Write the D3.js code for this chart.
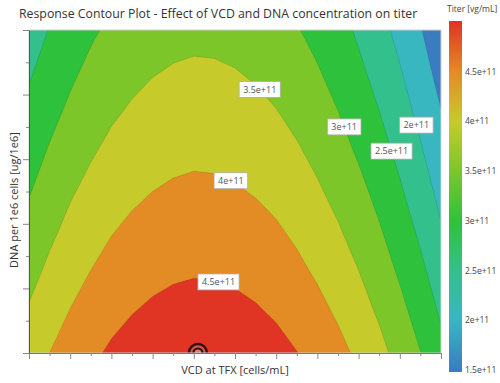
<!DOCTYPE html>
<html>
<head>
<meta charset="utf-8">
<script src="https://cdn.jsdelivr.net/npm/d3@7"></script>
<style>
body { margin: 0; background: #fff; }
svg { font-family: "Open Sans", "Noto Sans", sans-serif; }
</style>
</head>
<body>
<svg width="500" height="383"></svg>
<script>
// grid of the response model, titer in units of 1e11 vg/mL
var vcd = [0, 0.5, 1, 1.5, 2, 2.5, 3, 3.5, 4, 4.5, 5, 5.5, 6, 6.5, 7, 7.5, 8, 8.5, 9, 9.5, 10];
var dna = [0, 1.25, 2.5, 3.75, 5, 6.25, 7.5, 8.75, 10];
// one row per dna value, bottom row first
var titer = [
    [3.75, 4.00, 4.22, 4.41, 4.57, 4.69, 4.78, 4.84, 4.87, 4.86, 4.82, 4.75, 4.65, 4.51, 4.34, 4.14, 3.91, 3.64, 3.34, 3.01, 2.65],
    [3.55, 3.80, 4.02, 4.21, 4.37, 4.49, 4.58, 4.64, 4.67, 4.66, 4.62, 4.55, 4.45, 4.31, 4.14, 3.94, 3.70, 3.44, 3.14, 2.81, 2.44],
    [3.35, 3.60, 3.83, 4.01, 4.17, 4.29, 4.38, 4.44, 4.47, 4.46, 4.42, 4.35, 4.25, 4.11, 3.94, 3.74, 3.51, 3.24, 2.94, 2.61, 2.25],
    [3.16, 3.41, 3.63, 3.82, 3.98, 4.10, 4.19, 4.25, 4.28, 4.27, 4.23, 4.16, 4.06, 3.92, 3.75, 3.55, 3.31, 3.05, 2.75, 2.42, 2.05],
    [2.97, 3.22, 3.45, 3.63, 3.79, 3.91, 4.00, 4.06, 4.09, 4.08, 4.04, 3.97, 3.87, 3.73, 3.56, 3.36, 3.13, 2.86, 2.56, 2.23, 1.87],
    [2.79, 3.04, 3.26, 3.45, 3.61, 3.73, 3.82, 3.88, 3.91, 3.90, 3.86, 3.79, 3.69, 3.55, 3.38, 3.18, 2.94, 2.68, 2.38, 2.05, 1.68],
    [2.61, 2.86, 3.08, 3.27, 3.43, 3.55, 3.64, 3.70, 3.73, 3.72, 3.68, 3.61, 3.51, 3.37, 3.20, 3.00, 2.77, 2.50, 2.20, 1.87, 1.51],
    [2.44, 2.69, 2.91, 3.10, 3.26, 3.38, 3.47, 3.53, 3.56, 3.55, 3.51, 3.44, 3.34, 3.20, 3.03, 2.83, 2.59, 2.33, 2.03, 1.70, 1.33],
    [2.27, 2.52, 2.74, 2.93, 3.09, 3.21, 3.30, 3.36, 3.39, 3.38, 3.34, 3.27, 3.17, 3.03, 2.86, 2.66, 2.43, 2.16, 1.86, 1.53, 1.17]
];
var levels = [1.5, 2, 2.5, 3, 3.5, 4, 4.5];
var colorStops = [1.5, 2, 2.5, 3, 3.5, 4, 4.5, 5];
var colorValues = ["#3a7cc0", "#38b7c0", "#33c08c", "#2ec23c", "#7cc62a", "#c6cb2b", "#e38b24", "#e03424"];
var barTicks = [1.5, 2, 2.5, 3, 3.5, 4, 4.5];
var barTickLabels = ["1.5e+11", "2e+11", "2.5e+11", "3e+11", "3.5e+11", "4e+11", "4.5e+11"];
var labelLevels = [4.5, 4, 3.5, 3, 2.5, 2];
var labelTexts = ["4.5e+11", "4e+11", "3.5e+11", "3e+11", "2.5e+11", "2e+11"];
var labelVcd = [4.6, 4.9, 5.6, 7.65, 8.8, 9.4];
var optimum = [4.1, 0];
var xTicks = vcd;
var yTicks = [0, 1, 2, 3, 4, 5, 6, 7, 8, 9, 10];

var svg = d3.select("svg");
var margin = {left: 29, top: 30, right: 441, bottom: 353};

var x = d3.scaleLinear().domain([0, 10]).range([margin.left, margin.right]);
var y = d3.scaleLinear().domain([0, 10]).range([margin.bottom, margin.top]);
var color = d3.scaleLinear().domain(colorStops).range(colorValues);

// band above a threshold gets the colour of the next level
function bandColor(t) { return color(t + 0.5); }

var defs = svg.append("defs");
defs.append("clipPath").attr("id", "plotclip")
    .append("rect")
    .attr("x", margin.left).attr("y", margin.top)
    .attr("width", margin.right - margin.left)
    .attr("height", margin.bottom - margin.top);

svg.append("text")
    .attr("x", 19).attr("y", 18)
    .attr("font-size", 12.3)
    .attr("fill", "#333")
    .text("Response Contour Plot - Effect of VCD and DNA concentration on titer");

var n = vcd.length, m = dna.length;
var values = [];
titer.forEach(function(row) { row.forEach(function(v) { values.push(v); }); });

var gx = d3.scaleLinear().domain([0.5, n - 0.5]).range([x(vcd[0]), x(vcd[n - 1])]);
var gy = d3.scaleLinear().domain([0.5, m - 0.5]).range([y(dna[0]), y(dna[m - 1])]);
var proj = d3.geoTransform({
    point: function(px, py) { this.stream.point(gx(px), gy(py)); }
});
var path = d3.geoPath(proj);

var contours = d3.contours().size([n, m]).thresholds(levels)(values);

var plot = svg.append("g").attr("clip-path", "url(#plotclip)");
plot.append("rect")
    .attr("x", margin.left).attr("y", margin.top)
    .attr("width", margin.right - margin.left)
    .attr("height", margin.bottom - margin.top)
    .attr("fill", color(1.5));

plot.selectAll("path.band")
    .data(contours)
    .enter().append("path")
    .attr("class", "band")
    .attr("d", path)
    .attr("fill", d => bandColor(d.value))
    .attr("stroke", "rgba(0,0,0,0.18)")
    .attr("stroke-width", 0.6);

// optimum marker
var ox = x(optimum[0]), oy = y(optimum[1]);
plot.append("circle").attr("cx", ox).attr("cy", oy).attr("r", 9)
    .attr("fill", "#c85a50").attr("stroke", "#3a0c0a").attr("stroke-width", 2.5);
plot.append("circle").attr("cx", ox).attr("cy", oy).attr("r", 4.5)
    .attr("fill", "#d88070").attr("stroke", "#3a0c0a").attr("stroke-width", 2.2);

// frame
svg.append("rect")
    .attr("x", margin.left).attr("y", margin.top)
    .attr("width", margin.right - margin.left)
    .attr("height", margin.bottom - margin.top)
    .attr("fill", "none").attr("stroke", "#d0d0d0").attr("stroke-width", 1);

// axes, ticks only
var xAxis = svg.append("g").attr("transform", `translate(0,${margin.bottom})`)
    .call(d3.axisBottom(x).tickValues(xTicks).tickFormat("").tickSize(3).tickSizeOuter(0));
xAxis.selectAll("line").attr("stroke", "#888").attr("y2", (d, i) => i % 2 === 0 ? 6 : 3);
xAxis.select(".domain").attr("stroke", "#777");

var yAxis = svg.append("g").attr("transform", `translate(${margin.left},0)`)
    .call(d3.axisLeft(y).tickValues(yTicks).tickFormat("").tickSize(3).tickSizeOuter(0));
yAxis.selectAll("line").attr("stroke", "#888").attr("x2", (d, i) => i % 2 === 0 ? -6 : -3);
yAxis.select(".domain").attr("stroke", "#555");

svg.append("text")
    .attr("x", (margin.left + margin.right) / 2).attr("y", 374)
    .attr("text-anchor", "middle").attr("font-size", 11).attr("fill", "#333")
    .text("VCD at TFX [cells/mL]");

svg.append("text")
    .attr("transform", `translate(18,200) rotate(-90)`)
    .attr("text-anchor", "middle").attr("font-size", 11).attr("fill", "#333")
    .text("DNA per 1e6 cells [ug/1e6]");

// contour labels: find where each level crosses the given vcd
function crossing(level, xv) {
    var c = d3.contours().size([n, m]).thresholds([level])(values)[0];
    var px = x(xv), best = null;
    c.coordinates.forEach(function(poly) {
        poly.forEach(function(ring) {
            for (var i = 1; i < ring.length; i++) {
                var ax = gx(ring[i - 1][0]), ay = gy(ring[i - 1][1]);
                var bx = gx(ring[i][0]), by = gy(ring[i][1]);
                if ((ax - px) * (bx - px) <= 0 && ax !== bx) {
                    var yy = ay + (by - ay) * (px - ax) / (bx - ax);
                    if (yy > margin.top + 1 && yy < margin.bottom - 1 && (best === null || yy < best)) best = yy;
                }
            }
        });
    });
    return [px, best];
}

var lab = svg.selectAll("g.clabel")
    .data(labelLevels.map((l, i) => ({level: l, text: labelTexts[i], pos: crossing(l, labelVcd[i])})))
    .enter().append("g").attr("class", "clabel")
    .attr("transform", d => `translate(${d.pos[0]},${d.pos[1]})`);
lab.append("text")
    .attr("text-anchor", "middle").attr("dy", "0.35em")
    .attr("font-size", 9).attr("fill", "#555")
    .text(d => d.text)
    .each(function(d) { d.w = this.getComputedTextLength(); });
lab.insert("rect", "text")
    .attr("x", d => -d.w / 2 - 4).attr("y", -8)
    .attr("width", d => d.w + 8).attr("height", 16)
    .attr("fill", "#fff").attr("stroke", "#aaa").attr("stroke-width", 0.8);

// colour bar
var cy = d3.scaleLinear().domain([1.48, 5.01]).range([372, 21]);
var grad = defs.append("linearGradient").attr("id", "bar")
    .attr("x1", 0).attr("y1", 1).attr("x2", 0).attr("y2", 0);
grad.selectAll("stop")
    .data(colorStops)
    .enter().append("stop")
    .attr("offset", d => (d - cy.domain()[0]) / (cy.domain()[1] - cy.domain()[0]))
    .attr("stop-color", d => color(d));

svg.append("rect")
    .attr("x", 449).attr("y", cy(5.01))
    .attr("width", 13).attr("height", cy(1.48) - cy(5.01))
    .attr("fill", "url(#bar)");

svg.append("text")
    .attr("x", 447).attr("y", 12)
    .attr("font-size", 8.5).attr("fill", "#444")
    .text("Titer [vg/mL]");

svg.selectAll("text.bartick")
    .data(barTicks)
    .enter().append("text")
    .attr("class", "bartick")
    .attr("x", 465).attr("y", d => cy(d))
    .attr("dy", "0.35em")
    .attr("font-size", 8.5).attr("fill", "#444")
    .text((d, i) => barTickLabels[i]);
</script>
</body>
</html>
